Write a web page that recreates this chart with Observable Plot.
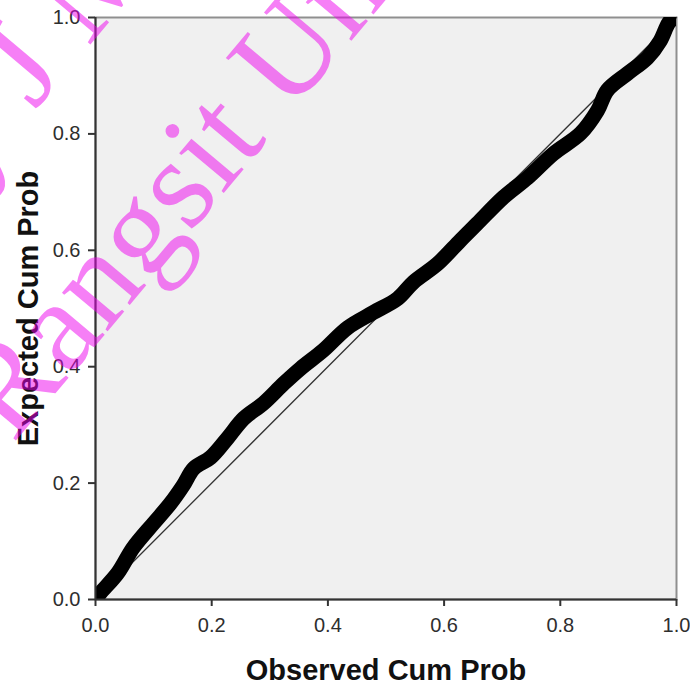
<!DOCTYPE html>
<html>
<head>
<meta charset="utf-8">
<script src="https://cdn.jsdelivr.net/npm/d3@7"></script>
<script src="https://cdn.jsdelivr.net/npm/@observablehq/plot@0.6"></script>
<style>
  html, body { margin: 0; padding: 0; background: #fff; }
  #wrap { position: relative; width: 690px; height: 685px; overflow: hidden; }
  #wm { position: absolute; left: 0; top: 0; pointer-events: none; }
</style>
</head>
<body>
<div id="wrap"></div>
<script>
// Observed vs expected cumulative probability
const observed = [0.002, 0.009, 0.038, 0.065, 0.100, 0.129, 0.151, 0.169, 0.198, 0.227, 0.255, 0.289, 0.324, 0.353, 0.392, 0.434, 0.478, 0.520, 0.547, 0.589, 0.628, 0.657, 0.702, 0.744, 0.788, 0.835, 0.864, 0.881, 0.916, 0.950, 0.972, 0.986, 0.995];
const expected = [0.003, 0.012, 0.045, 0.089, 0.131, 0.165, 0.196, 0.225, 0.244, 0.277, 0.311, 0.337, 0.371, 0.397, 0.428, 0.467, 0.493, 0.517, 0.545, 0.577, 0.617, 0.646, 0.691, 0.725, 0.766, 0.801, 0.840, 0.875, 0.904, 0.931, 0.960, 0.990, 1.000];
const refLineX = [0, 1];
const refLineY = [0, 1];
const xTicks = [0, 0.2, 0.4, 0.6, 0.8, 1.0];
const yTicks = [0, 0.2, 0.4, 0.6, 0.8, 1.0];
const xTitle = "Observed Cum Prob";
const yTitle = "Expected Cum Prob";
const watermarkLines = ["Rangsit University", "ersity J Mo"];

const points = observed.map((x, i) => ({x, y: expected[i]}));
const ref = refLineX.map((x, i) => ({x, y: refLineY[i]}));

const chart = Plot.plot({
  width: 690,
  height: 685,
  marginLeft: 95,
  marginRight: 14,
  marginTop: 17,
  marginBottom: 86,
  style: {fontFamily: "'Liberation Sans', Arial, sans-serif", fontSize: "20px", color: "#2e2e2e", background: "#fff"},
  x: {domain: [0, 1]},
  y: {domain: [0, 1]},
  marks: [
    Plot.frame({fill: "#f0f0f0", stroke: "#8f8f8f", strokeWidth: 2}),
    Plot.line(ref, {x: "x", y: "y", stroke: "#333", strokeWidth: 1.3}),
    Plot.line(points, {x: "x", y: "y", stroke: "#000", strokeWidth: 15, strokeLinecap: "round", strokeLinejoin: "round", curve: "catmull-rom", clip: true}),
    Plot.ruleX([0], {stroke: "#333", strokeWidth: 2}),
    Plot.ruleY([0], {stroke: "#333", strokeWidth: 2}),
    Plot.axisX({ticks: xTicks, tickFormat: d => d.toFixed(1), tickSize: 7, tickPadding: 11, strokeWidth: 2, stroke: "#333", fill: "#2e2e2e", label: null}),
    Plot.axisY({ticks: yTicks, tickFormat: d => d.toFixed(1), tickSize: 7, tickPadding: 8, strokeWidth: 2, stroke: "#333", fill: "#2e2e2e", label: null}),
    Plot.text([xTitle], {frameAnchor: "bottom", text: d => d, dy: 80, fontSize: 29, fontWeight: "bold", fill: "#111"}),
    Plot.text([yTitle], {x: -0.115, y: 0.5, text: d => d, rotate: -90, fontSize: 29, fontWeight: "bold", fill: "#111"})
  ]
});
document.getElementById("wrap").appendChild(chart);

// Watermark overlay
const ns = "http://www.w3.org/2000/svg";
const wm = document.createElementNS(ns, "svg");
wm.setAttribute("id", "wm");
wm.setAttribute("width", 690);
wm.setAttribute("height", 685);
const starts = [[13, 444], [-172, 357]];
watermarkLines.forEach((t, i) => {
  const el = document.createElementNS(ns, "text");
  el.setAttribute("transform", `translate(${starts[i][0]},${starts[i][1]}) rotate(-50)`);
  el.setAttribute("font-family", "'Liberation Serif', 'Times New Roman', serif");
  el.setAttribute("font-size", 130);
  el.setAttribute("fill", "#ee00ee");
  el.setAttribute("fill-opacity", 0.5);
  el.textContent = t;
  wm.appendChild(el);
});
document.getElementById("wrap").appendChild(wm);
</script>
</body>
</html>
